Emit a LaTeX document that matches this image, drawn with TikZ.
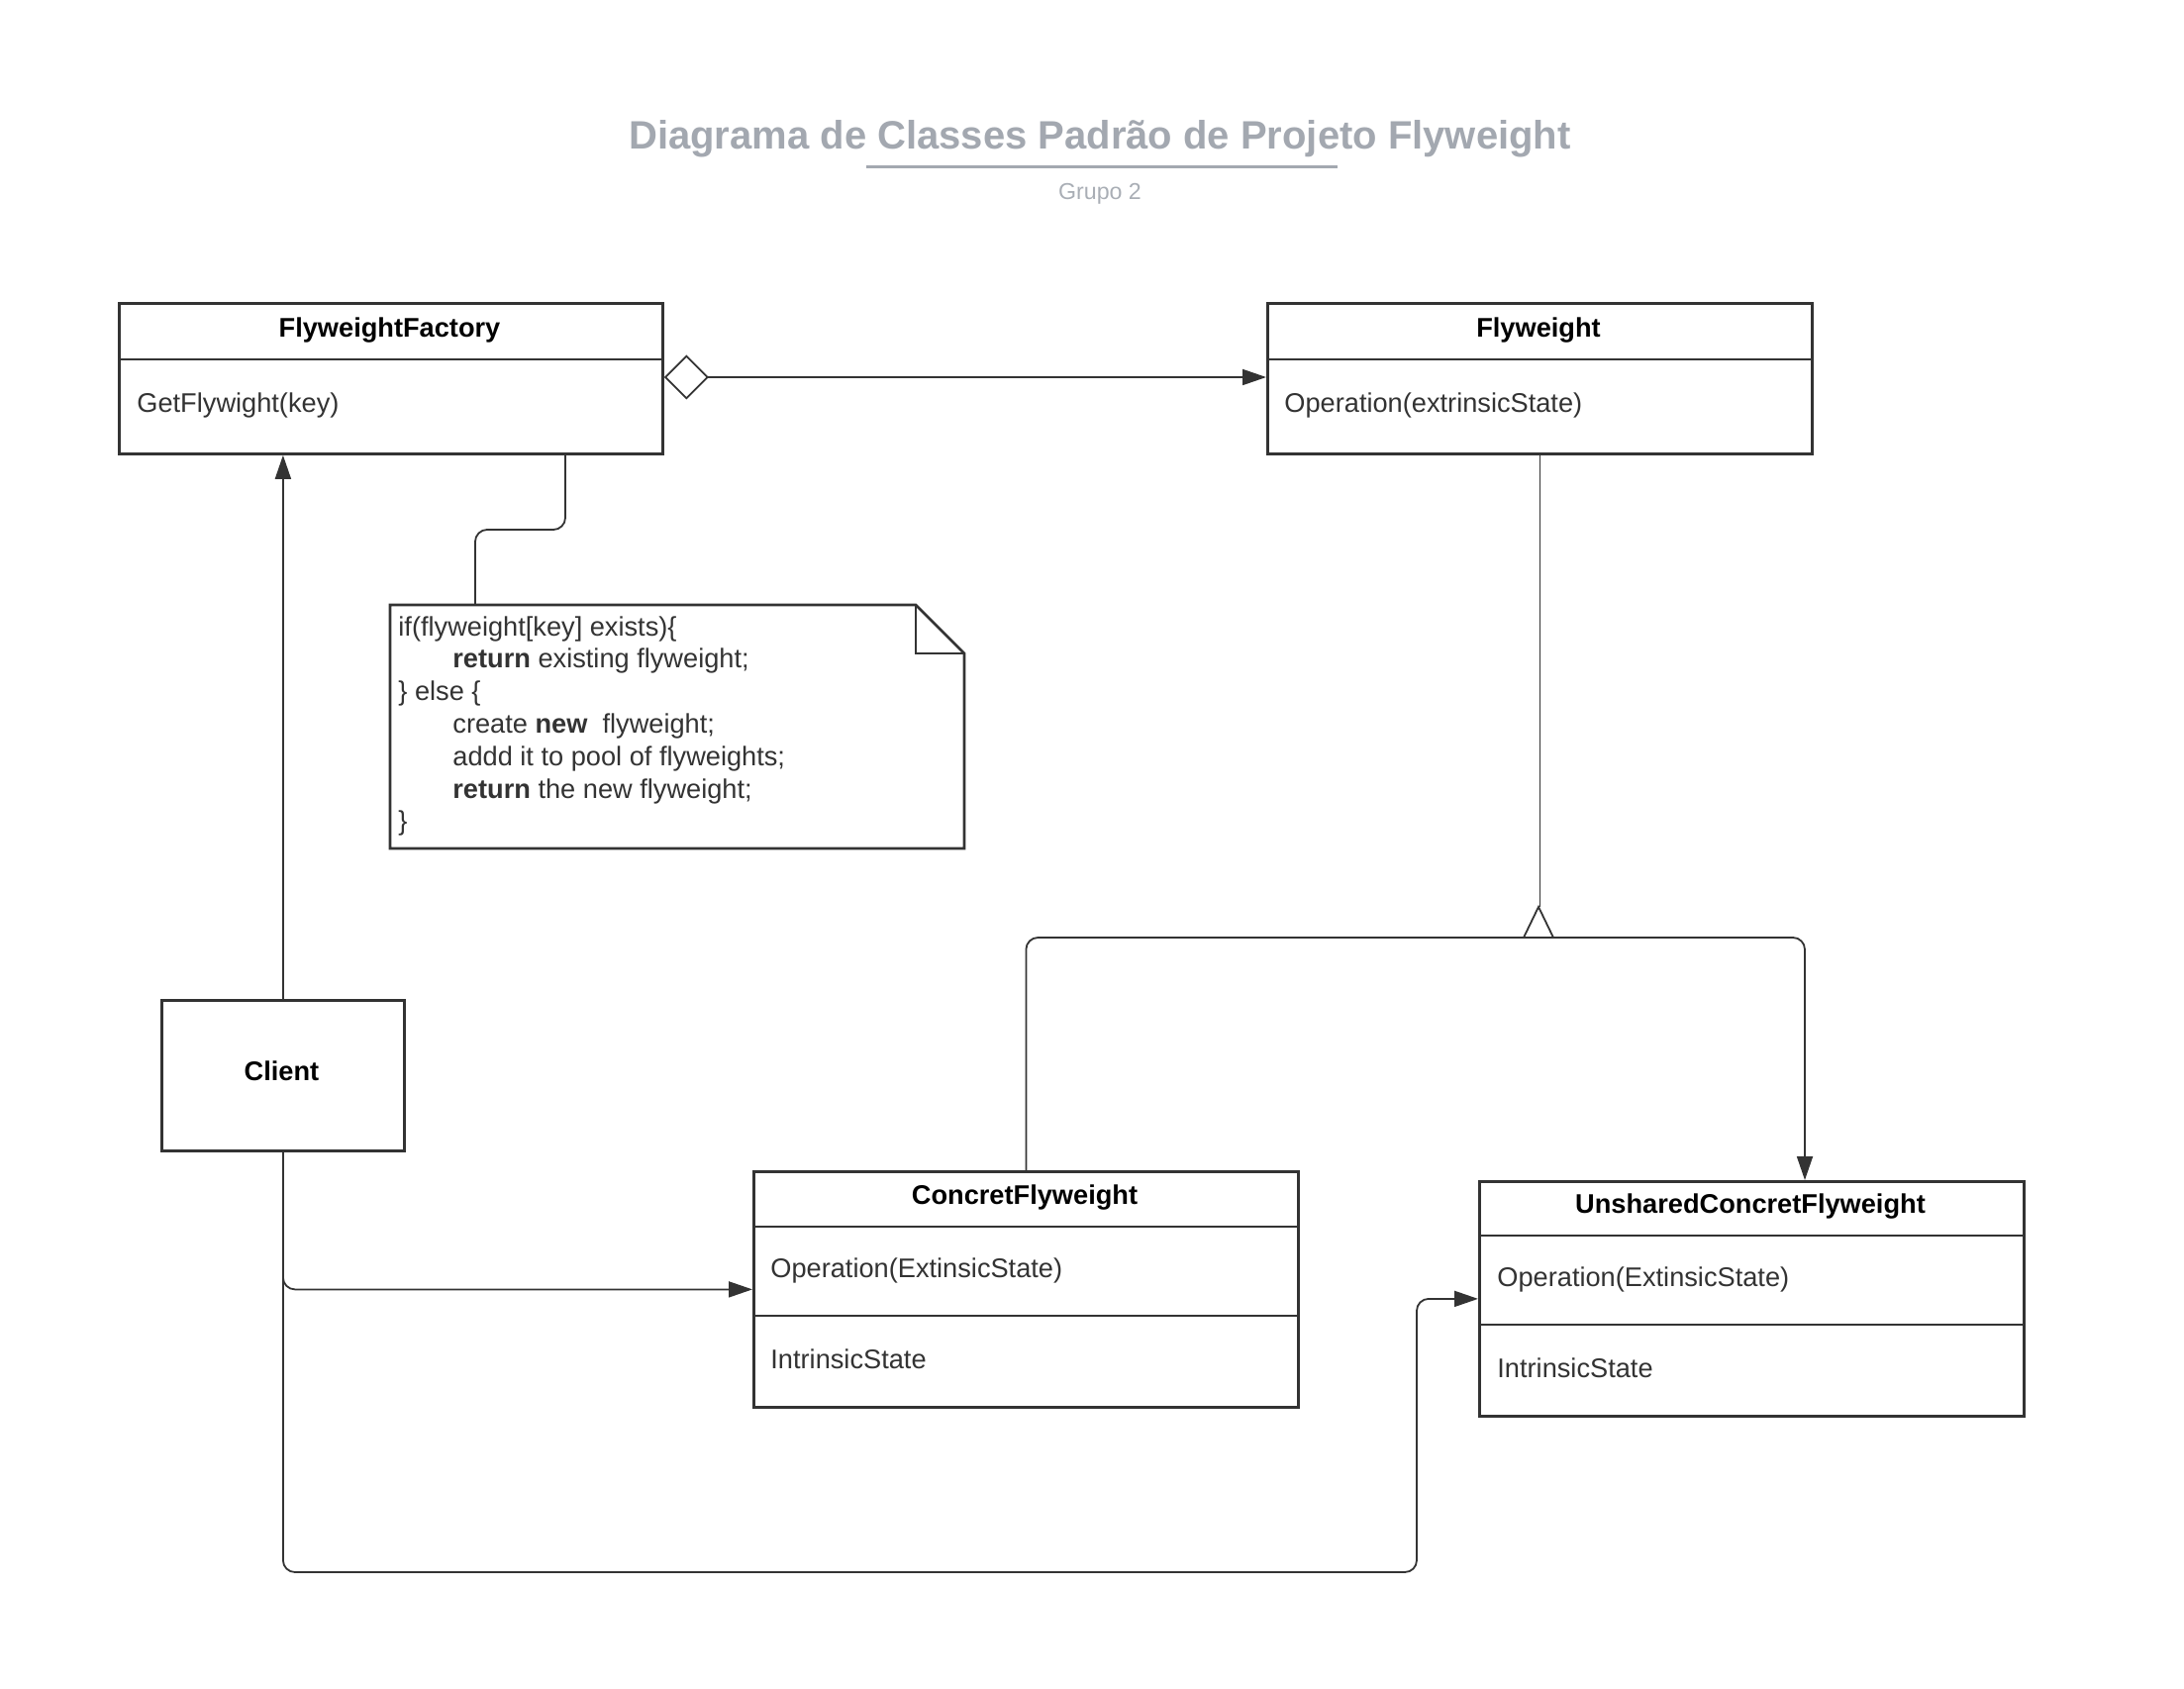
\documentclass[tikz,border=0pt]{standalone}
\usepackage{fontspec}
\setmainfont{Liberation Sans}
\usetikzlibrary{arrows.meta}
\definecolor{ln}{HTML}{333333}
\definecolor{tt}{HTML}{A3A8B0}
\definecolor{st}{HTML}{A9AEB5}
\begin{document}
\begin{tikzpicture}[x=0.5pt,y=-0.5pt,
  box/.style={draw=ln, line width=1.4pt, fill=white, anchor=north west, inner sep=0pt},
  divider/.style={draw=ln, line width=1.4pt},
  conn/.style={draw=ln, line width=0.9pt, rounded corners=6pt},
  tip/.style={-{Triangle[length=12pt,width=8pt]}},
  cname/.style={font=\fontsize{13.6}{16}\selectfont\bfseries, text=black, inner sep=0pt},
  member/.style={font=\fontsize{13.6}{16}\selectfont, text=ln, anchor=west, inner sep=0pt}]
\path[use as bounding box] (0,0) rectangle (2206,1706);

% title
\node[font=\fontsize{20}{24}\selectfont\bfseries, text=tt] (title) at (1111,140) {Diagrama de Classes Padrão de Projeto Flyweight};
\draw[tt, line width=1.5pt] (875,169) -- (1351,169);
\node[font=\fontsize{11.6}{14}\selectfont, text=st] (sub) at (1111,196) {Grupo 2};

% FlyweightFactory
\node[box, minimum width=274.5pt, minimum height=76pt] (ff) at (119,305) {};
\draw[divider] (ff.west |- 0,363) -- (ff.east |- 0,363);
\node[cname] (ffn) at (393.5,334) {FlyweightFactory};
\node[member] (ffm) at (138,409) {GetFlywight(key)};

% Flyweight
\node[box, minimum width=275pt, minimum height=76pt] (fw) at (1279,305) {};
\draw[divider] (fw.west |- 0,363) -- (fw.east |- 0,363);
\node[cname] (fwn) at (1554,334) {Flyweight};
\node[member] (fwm) at (1297,409) {Operation(extrinsicState)};

% ConcretFlyweight
\node[box, minimum width=275pt, minimum height=119pt] (cf) at (760,1182) {};
\draw[divider] (cf.west |- 0,1239) -- (cf.east |- 0,1239);
\draw[divider] (cf.west |- 0,1329) -- (cf.east |- 0,1329);
\node[cname] (cfn) at (1035,1210) {ConcretFlyweight};
\node[member] (cfm1) at (778,1283) {Operation(ExtinsicState)};
\node[member] (cfm2) at (778,1373) {IntrinsicState};

% UnsharedConcretFlyweight
\node[box, minimum width=275pt, minimum height=118.5pt] (uf) at (1493,1192) {};
\draw[divider] (uf.west |- 0,1248) -- (uf.east |- 0,1248);
\draw[divider] (uf.west |- 0,1338) -- (uf.east |- 0,1338);
\node[cname] (ufn) at (1768,1219) {UnsharedConcretFlyweight};
\node[member] (ufm1) at (1512,1292) {Operation(ExtinsicState)};
\node[member] (ufm2) at (1512,1382) {IntrinsicState};

% Client
\node[box, minimum width=122.5pt, minimum height=76pt] (cl) at (162,1009) {};
\node[cname] (cln) at (284.5,1082) {Client};

% Note
\node[anchor=north west, minimum width=290pt, minimum height=123pt, inner sep=0pt] (note) at (394,611) {};
\draw[ln, line width=1.4pt, fill=white] (394,611) -- (925,611) -- (974,660) -- (974,857) -- (394,857) -- cycle;
\draw[ln, line width=1.4pt] (925,611) -- (925,660) -- (974,660);
\node[anchor=north west, inner sep=0pt, align=left, text=ln,
      font=\fontsize{13.6}{16.4}\selectfont] (notetext) at (402,622)
 {if(flyweight[key] exists)\{\\
  \hspace*{27.5pt}\textbf{return} existing flyweight;\\
  \} else \{\\
  \hspace*{27.5pt}create \textbf{new}\ \ flyweight;\\
  \hspace*{27.5pt}addd it to pool of flyweights;\\
  \hspace*{27.5pt}\textbf{return} the new flyweight;\\
  \}};

% connectors
\draw[conn, {Diamond[open,length=22.5pt,width=22.5pt]}-{Triangle[length=12pt,width=8pt]}]
  (ff.east |- 0,381) -- (fw.west |- 0,381);
\draw[conn] (ff.south -| 571,0) -- (571,535) -- (480,535) -- (note.north -| 480,0);
\draw[conn, tip] (cl.north) -- (cl.north |- ff.south);

\draw[conn] (fw.south) -- (fw.south |- 0,916);
\draw[ln, line width=0.9pt, line join=miter] (1539,947) -- (1554,916) -- (1569,947);
\draw[conn, tip] (cf.north) -- (cf.north |- 0,947) -- (1823,947) -- (uf.north -| 1823,0);

\draw[conn, tip] (cl.south) -- (cl.south |- cf.west) -- (cf.west);
\draw[conn, tip] (cl.south) -- (cl.south |- 0,1588) -- (1431,1588) -- (1431,0 |- uf.west) -- (uf.west);
\end{tikzpicture}
\end{document}
